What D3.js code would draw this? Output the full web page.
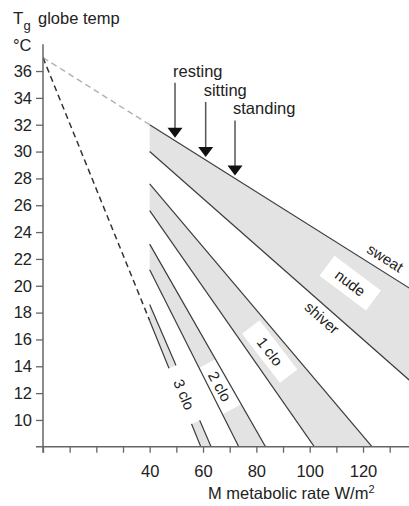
<!DOCTYPE html>
<html>
<head>
<meta charset="utf-8">
<script src="https://cdn.jsdelivr.net/npm/d3@7"></script>
<style>
  body { margin: 0; background: #fff; }
  text { font-family: "Liberation Sans", Arial, sans-serif; fill: #222; }
</style>
</head>
<body>
<div id="chart"></div>
<script>
// all comfort lines fan out from this point (M, Tg)
const apex = [0, 37];
const startM = 40;

// comfort bands: Tg read at M = 40 on the warm and cool edge
const bandNames = ["nude", "1 clo", "2 clo", "3 clo"];
const warmEdgeT = [32, 27.6, 23.1, 18.6];
const coolEdgeT = [30, 25.6, 21.2, 17.4];
const bandLabelT = [20.2, 15.1, 12.5, 11.9];

// words written along the nude band edges
const edgeNames = ["sweat", "shiver"];
const edgeLabelM = [125.8, 107.3];

// activity arrows
const activities = ["resting", "sitting", "standing"];
const activityM = [49.5, 61, 72];

// axes
const yTicks = [10, 12, 14, 16, 18, 20, 22, 24, 26, 28, 30, 32, 34, 36];
const xTickMarks = [0, 10, 20, 30, 40, 50, 60, 70, 80, 90, 100, 110, 120, 130];
const xTickLabels = [40, 60, 80, 100, 120];

const W = 409, H = 506;
const svg = d3.select("#chart")
    .append("svg")
    .attr("width", W)
    .attr("height", H);

const x = d3.scaleLinear().domain([0, 137.5]).range([43, 409.7]);
const y = d3.scaleLinear().domain([8, 38]).range([446.8, 44.2]);

const farM = 260;
// Tg on the straight line through the apex and (startM, t40)
function tAt(t40, m) {
    return apex[1] + (t40 - apex[1]) * (m - apex[0]) / (startM - apex[0]);
}
function mAt(t40, t) {
    return apex[0] + (t - apex[1]) * (startM - apex[0]) / (t40 - apex[1]);
}
function angleOf(t40) {
    const dx = x(100) - x(startM), dy = y(tAt(t40, 100)) - y(t40);
    return Math.atan2(dy, dx) * 180 / Math.PI;
}

svg.append("clipPath").attr("id", "plot")
    .append("rect")
    .attr("x", x(0)).attr("y", y(38))
    .attr("width", W - x(0)).attr("height", y(8) - y(38));

const plot = svg.append("g").attr("clip-path", "url(#plot)");
const line = d3.line().x(d => x(d[0])).y(d => y(d[1]));

// gray bands
plot.selectAll(".band")
    .data(bandNames)
    .join("path")
    .attr("fill", "#e3e3e3")
    .attr("d", (d, i) => line([
        [startM, warmEdgeT[i]], [farM, tAt(warmEdgeT[i], farM)],
        [farM, tAt(coolEdgeT[i], farM)], [startM, coolEdgeT[i]]
    ]) + "Z");

// label positions in the middle of each band
const bandLabels = bandNames.map((d, i) => {
    const t = bandLabelT[i];
    const m = (mAt(warmEdgeT[i], t) + mAt(coolEdgeT[i], t)) / 2;
    return {
        name: d, cx: x(m), cy: y(t),
        angle: (angleOf(warmEdgeT[i]) + angleOf(coolEdgeT[i])) / 2
    };
});
const boxSize = { "nude": [58, 25], "1 clo": [62, 22], "2 clo": [52, 21], "3 clo": [60, 20] };

function drawBox(g, d) {
    const s = boxSize[d.name];
    g.append("rect")
        .attr("x", -s[0] / 2).attr("y", -s[1] / 2)
        .attr("width", s[0]).attr("height", s[1])
        .attr("fill", "#fff")
        .attr("transform", `translate(${d.cx},${d.cy}) rotate(${d.angle})`);
}
bandLabels.filter(d => d.name !== "3 clo").forEach(d => drawBox(plot, d));

// band edges
const edges = [];
bandNames.forEach((d, i) => { edges.push(warmEdgeT[i]); edges.push(coolEdgeT[i]); });
plot.selectAll(".edge")
    .data(edges)
    .join("path")
    .attr("fill", "none")
    .attr("stroke", "#3c3c3c")
    .attr("stroke-width", 1.2)
    .attr("d", d => line([[startM, d], [farM, tAt(d, farM)]]));

// 3 clo label sits in a gap of its own lines
bandLabels.filter(d => d.name === "3 clo").forEach(d => drawBox(plot, d));

// dashed extensions back to the apex
plot.append("path")
    .attr("fill", "none")
    .attr("stroke", "#b0b0b0")
    .attr("stroke-width", 1.4)
    .attr("stroke-dasharray", "6,4")
    .attr("d", line([apex, [startM, warmEdgeT[0]]]));
plot.append("path")
    .attr("fill", "none")
    .attr("stroke", "#333")
    .attr("stroke-width", 1.5)
    .attr("stroke-dasharray", "6,4")
    .attr("d", line([apex, [startM, coolEdgeT[3]]]));

// band labels
svg.selectAll(".bandLabel")
    .data(bandLabels)
    .join("text")
    .attr("text-anchor", "middle")
    .attr("dy", "0.35em")
    .attr("font-size", 15)
    .attr("transform", d => `translate(${d.cx},${d.cy}) rotate(${d.angle})`)
    .text(d => d.name);

// sweat / shiver labels
const edgeOffset = [-12.5, 11];
svg.selectAll(".edgeLabel")
    .data(edgeNames)
    .join("text")
    .attr("text-anchor", "middle")
    .attr("dy", "0.35em")
    .attr("font-size", 15)
    .attr("transform", (d, i) => {
        const t40 = i === 0 ? warmEdgeT[0] : coolEdgeT[0];
        const a = angleOf(t40), r = a * Math.PI / 180;
        const px = x(edgeLabelM[i]) - edgeOffset[i] * Math.sin(r);
        const py = y(tAt(t40, edgeLabelM[i])) + edgeOffset[i] * Math.cos(r);
        return `translate(${px},${py}) rotate(${a})`;
    })
    .text(d => d);

// activity arrows pointing at the sweat line
const arrows = svg.selectAll(".arrow")
    .data(activities)
    .join("g")
    .attr("transform", (d, i) => `translate(${x(activityM[i])},${y(tAt(warmEdgeT[0], activityM[i])) - 3})`);
arrows.append("line")
    .attr("x1", 0).attr("x2", 0)
    .attr("y1", -55).attr("y2", -9)
    .attr("stroke", "#555")
    .attr("stroke-width", 1.5);
arrows.append("path")
    .attr("d", "M-7.5,-10L7.5,-10L0,0Z")
    .attr("fill", "#111");
arrows.append("text")
    .attr("x", -2).attr("y", -61)
    .attr("font-size", 16.5)
    .text(d => d);

// axes
const axisColor = "#666";
const yAxis = svg.append("g")
    .attr("transform", `translate(${x(0)},0)`)
    .call(d3.axisLeft(y).tickValues(yTicks).tickSize(7).tickPadding(4).tickSizeOuter(0));
const xAxis = svg.append("g")
    .attr("transform", `translate(0,${y(8)})`)
    .call(d3.axisBottom(x).tickValues(xTickMarks).tickSize(6).tickPadding(12).tickSizeOuter(0)
        .tickFormat(d => xTickLabels.includes(d) ? d : ""));
[yAxis, xAxis].forEach(g => {
    g.select(".domain").remove();
    g.selectAll(".tick line").attr("stroke", axisColor).attr("stroke-width", 1.3);
    g.selectAll(".tick text")
        .attr("font-family", "Liberation Sans, Arial, sans-serif")
        .attr("font-size", 16.5)
        .attr("fill", "#222");
});
svg.append("line")
    .attr("x1", x(0)).attr("x2", x(0))
    .attr("y1", y(38)).attr("y2", y(8) + 6)
    .attr("stroke", axisColor).attr("stroke-width", 1.5);
svg.append("line")
    .attr("x1", x(0) - 7).attr("x2", W)
    .attr("y1", y(8)).attr("y2", y(8))
    .attr("stroke", axisColor).attr("stroke-width", 1.5);

// axis titles
const yTitle = svg.append("text").attr("x", 13).attr("y", 24).attr("font-size", 17);
yTitle.append("tspan").text("T");
yTitle.append("tspan").attr("font-size", 13).attr("dy", 6).text("g");
yTitle.append("tspan").attr("x", 38).attr("dy", -6).attr("font-size", 16.5).text("globe temp");
svg.append("text").attr("x", 13).attr("y", 51).attr("font-size", 16.5).text("°C");

const xTitle = svg.append("text").attr("x", 208).attr("y", 499).attr("font-size", 16.5);
xTitle.append("tspan").text("M metabolic rate W/m");
xTitle.append("tspan").attr("font-size", 11).attr("dy", -6).text("2");
</script>
</body>
</html>
